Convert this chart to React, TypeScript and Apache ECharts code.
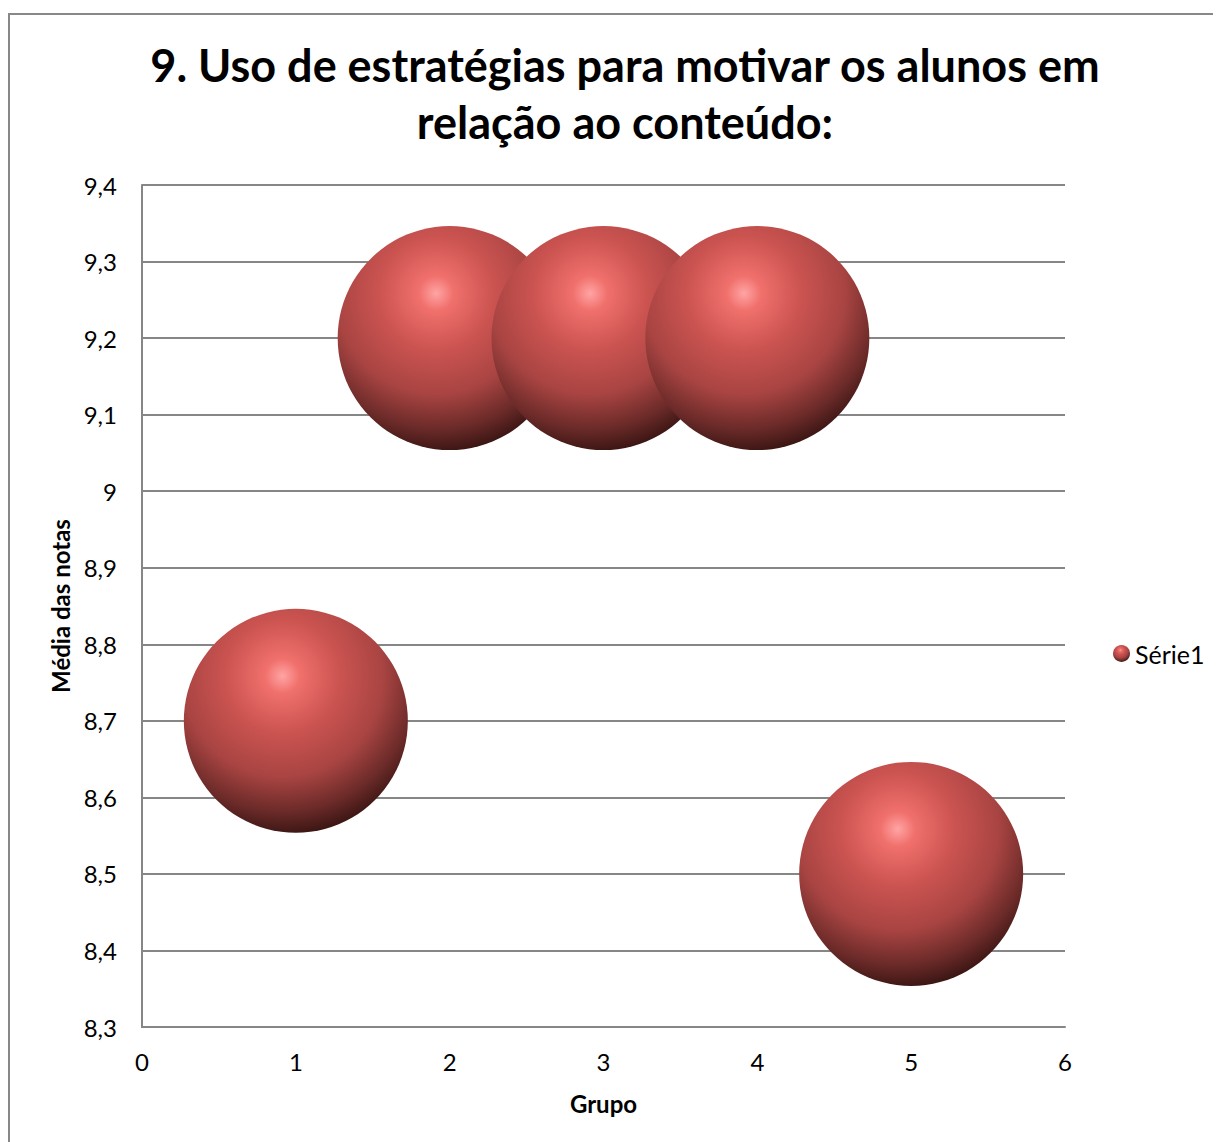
import React, { useEffect, useRef } from "react";
import * as echarts from "echarts";

const titleLines = ["9. Uso de estratégias para motivar os alunos em", "relação ao conteúdo:"];
const seriesName = "Série1";
const groups = [1, 2, 3, 4, 5];
const means = [8.7, 9.2, 9.2, 9.2, 8.5];
const bubbleSizes = [1, 1, 1, 1, 1];
const xTicks = [0, 1, 2, 3, 4, 5, 6];
const yMin = 8.3;
const yMax = 9.4;

const FONT = "Lato, 'Open Sans', sans-serif";

const ballGradient = () =>
  new echarts.graphic.RadialGradient(0.44, 0.3, 0.78, [
    { offset: 0, color: "#ffa4a4" },
    { offset: 0.1, color: "#f0706c" },
    { offset: 0.32, color: "#cc5451" },
    { offset: 0.58, color: "#a84442" },
    { offset: 0.78, color: "#6a2a28" },
    { offset: 0.92, color: "#371412" },
    { offset: 1, color: "#160606" },
  ]);

export default function App() {
  const ref = useRef<HTMLDivElement>(null);
  useEffect(() => {
    if (!ref.current) return;
    const chart = echarts.init(ref.current, null, { renderer: "svg" });
    const data = groups.map((g, i) => [g, means[i], bubbleSizes[i]]);
    chart.setOption({
      animation: false,
      backgroundColor: "#ffffff",
      title: {
        text: titleLines.join("\n"),
        left: 612,
        textAlign: "center",
        top: 23,
        textStyle: {
          fontFamily: FONT,
          fontWeight: "bold",
          fontSize: 45,
          lineHeight: 57,
          color: "#000000",
        },
      },
      graphic: [
        {
          type: "rect",
          shape: { x: 1, y: 6, width: 1300, height: 1300 },
          style: { fill: "none", stroke: "#888888", lineWidth: 2 },
          silent: true,
          z: 100,
        },
      ],
      legend: {
        data: [{ name: seriesName, icon: "circle" }],
        left: 1100,
        top: 628,
        orient: "vertical",
        itemWidth: 17,
        itemHeight: 17,
        itemGap: 6,
        textStyle: { fontFamily: FONT, fontSize: 25, color: "#000" },
      },
      grid: { left: 134, top: 177, right: 156, bottom: 115, containLabel: false },
      xAxis: {
        type: "value",
        min: xTicks[0],
        max: xTicks[xTicks.length - 1],
        interval: 1,
        name: "Grupo",
        nameLocation: "middle",
        nameGap: 64,
        nameTextStyle: { fontFamily: FONT, fontWeight: "bold", fontSize: 24, color: "#000" },
        axisLine: { show: true, lineStyle: { color: "#868686", width: 2 } },
        axisTick: { show: false },
        splitLine: { show: false },
        axisLabel: { fontFamily: FONT, fontSize: 24, color: "#000", margin: 22 },
      },
      yAxis: {
        type: "value",
        min: yMin,
        max: yMax,
        interval: 0.1,
        name: "Média das notas",
        nameLocation: "middle",
        nameGap: 70,
        nameTextStyle: { fontFamily: FONT, fontWeight: "bold", fontSize: 24, color: "#000" },
        axisLine: { show: true, lineStyle: { color: "#868686", width: 2 } },
        axisTick: { show: false },
        splitLine: { show: true, lineStyle: { color: "#868686", width: 2 } },
        axisLabel: {
          fontFamily: FONT,
          fontSize: 24,
          color: "#000",
          margin: 25,
          formatter: (v: number) => (Math.round(v * 10) / 10).toString().replace(".", ","),
        },
      },
      series: [
        {
          name: seriesName,
          type: "scatter",
          data,
          symbol: "circle",
          symbolSize: (d: number[]) => 224 * Math.sqrt(d[2]),
          itemStyle: {
            color: ballGradient(),
            opacity: 1,
          },
          clip: false,
        },
      ],
    });
    return () => chart.dispose();
  }, []);
  return <div ref={ref} style={{ width: 1213, height: 1134 }} />;
}
